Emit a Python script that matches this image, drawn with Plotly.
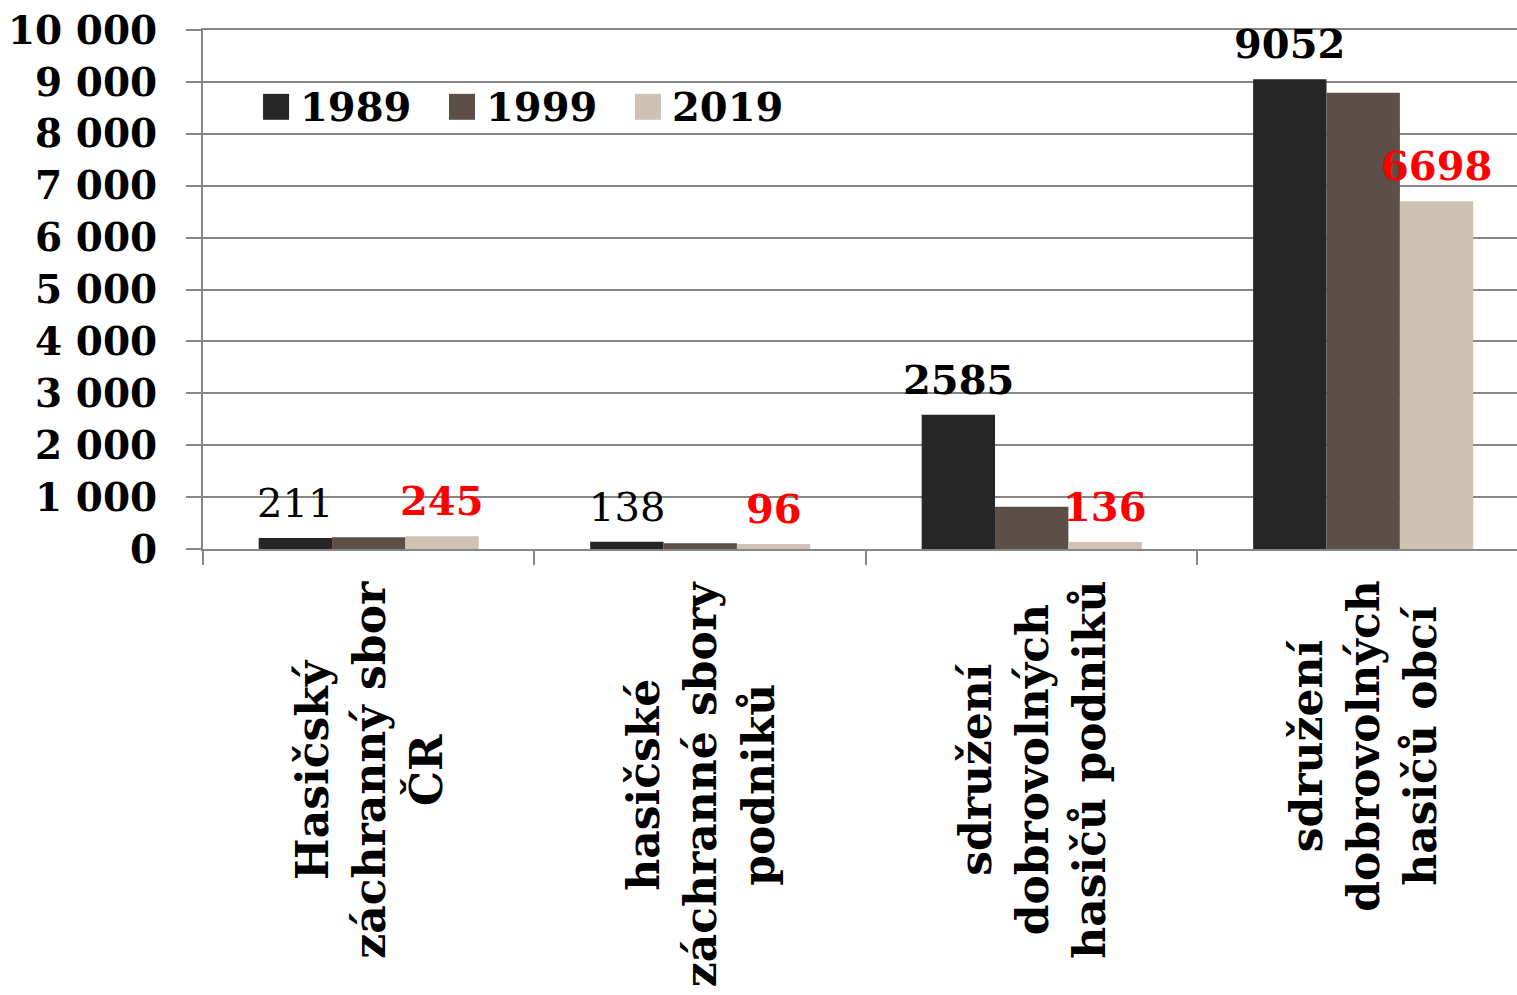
import plotly.graph_objects as go

categories = ["Hasičský<br>záchranný sbor<br>ČR",
              "hasičské<br>záchranné sbory<br>podniků",
              "sdružení<br>dobrovolných<br>hasičů podniků",
              "sdružení<br>dobrovolných<br>hasičů obcí"]
series_names = ["1989", "1999", "2019"]
values_1989 = [211, 138, 2585, 9052]
values_1999 = [228, 112, 815, 8790]
values_2019 = [245, 96, 136, 6698]
bold_1989 = [False, False, True, True]
colors = ["#262626", "#5b4f47", "#cfc2b2"]
yticks = [0, 1000, 2000, 3000, 4000, 5000, 6000, 7000, 8000, 9000, 10000]

FONT = "DejaVu Serif"
BARGAP = 0.336
W = (1 - BARGAP) / 3
X_RANGE = [-0.5, 3.464]

fig = go.Figure()
for name, vals, col in zip(series_names, [values_1989, values_1999, values_2019], colors):
    fig.add_trace(go.Bar(name=name, x=list(range(len(categories))), y=vals,
                         marker=dict(color=col, line=dict(width=0)), showlegend=False))

ann = []
shapes = []
for i, (v, b) in enumerate(zip(values_1989, bold_1989)):
    ann.append(dict(x=i - W, y=v, xref="x", yref="y", text=str(v), showarrow=False,
                    yanchor="bottom", yshift=10,
                    font=dict(family=FONT, size=40, color="black", weight="bold" if b else "normal")))
for i, v in enumerate(values_2019):
    ann.append(dict(x=i + W, y=v, xref="x", yref="y", text=str(v), showarrow=False,
                    yanchor="bottom", yshift=10,
                    font=dict(family=FONT, size=40, color="red", weight="bold")))
for i, c in enumerate(categories):
    ann.append(dict(x=i, y=0, xref="x", yref="paper", text=c, showarrow=False,
                    textangle=-90, xanchor="center", yanchor="top", yshift=-30, align="center",
                    font=dict(family=FONT, size=44, color="black", weight="bold")))

# legend (layout element, placed in the plot's paper space)
LEG_X0, LEG_STEP, LEG_SQ, LEG_Y = 0.0457, 0.1415, 0.0198, 0.852
for k, (name, col) in enumerate(zip(series_names, colors)):
    x0 = LEG_X0 + k * LEG_STEP
    shapes.append(dict(type="rect", xref="paper", yref="paper",
                       x0=x0, x1=x0 + LEG_SQ, y0=LEG_Y - 0.025, y1=LEG_Y + 0.025,
                       fillcolor=col, line=dict(width=0)))
    ann.append(dict(x=x0 + LEG_SQ + 0.007, y=LEG_Y, xref="paper", yref="paper", text=name,
                    showarrow=False, xanchor="left", yanchor="middle",
                    font=dict(family=FONT, size=40, color="black", weight="bold")))

fig.update_layout(
    width=1517, height=995,
    margin=dict(l=203, r=0, t=30, b=446),
    paper_bgcolor="white", plot_bgcolor="white",
    barmode="group", bargap=BARGAP, bargroupgap=0,
    separators=", ",
    font=dict(family=FONT, size=39, color="black", weight="bold"),
    showlegend=False,
    annotations=ann, shapes=shapes,
)
fig.update_xaxes(type="linear", range=X_RANGE, automargin=False,
                 tickvals=[i - 0.5 for i in range(len(categories) + 1)],
                 showticklabels=False, ticks="outside", ticklen=14, tickwidth=2, tickcolor="#868686",
                 showline=True, mirror=True, linecolor="#868686", linewidth=2,
                 showgrid=False, zeroline=False)
fig.update_yaxes(range=[0, 10000], tickvals=yticks, tickformat=",d", automargin=False,
                 ticks="outside", ticklen=15, tickwidth=2, tickcolor="#868686",
                 showline=True, linecolor="#868686", linewidth=2,
                 showgrid=True, gridcolor="#868686", gridwidth=2, zeroline=False,
                 ticklabelstandoff=21, ticklabeloverflow="allow",
                 tickfont=dict(family=FONT, size=39, color="black", weight="bold"))

fig.write_html("out.html", config={"displayModeBar": False},
               post_script="document.body.style.margin='0';document.body.style.overflow='hidden';")
